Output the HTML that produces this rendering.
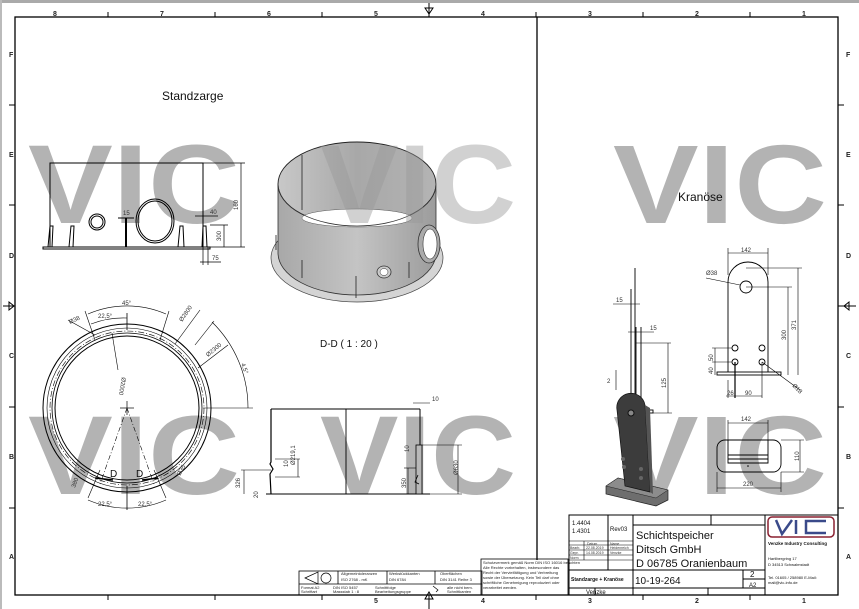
<!DOCTYPE html>
<html><head><meta charset="utf-8"><style>
html,body{margin:0;padding:0;background:#fff;}
svg{display:block;}
text{font-family:"Liberation Sans","DejaVu Sans",sans-serif;}
</style></head><body>
<svg width="859" height="609" viewBox="0 0 859 609" xmlns="http://www.w3.org/2000/svg">
<rect x="0" y="0" width="859" height="609" fill="#fff"/>
<rect x="0" y="0" width="859" height="3" fill="#aaa"/>
<rect x="0" y="0" width="2" height="609" fill="#bbb"/>

<!-- watermark -->
<g fill="#b3b3b3" font-weight="bold" font-size="112">
<text x="28" y="223" textLength="212" lengthAdjust="spacingAndGlyphs">VIC</text>
<text x="613" y="223" textLength="214" lengthAdjust="spacingAndGlyphs">VIC</text>
<text x="28" y="494" textLength="212" lengthAdjust="spacingAndGlyphs">VIC</text>
<text x="320" y="494" textLength="196" lengthAdjust="spacingAndGlyphs">VIC</text>
<text x="613" y="494" textLength="214" lengthAdjust="spacingAndGlyphs">VIC</text>
</g>

<!-- frame -->
<g stroke="#000" fill="none" stroke-width="1.3">
<rect x="15" y="17" width="823" height="578"/>
<line x1="537" y1="17" x2="537" y2="560"/>
</g>
<g stroke="#000" stroke-width="1">
<line x1="108" y1="12" x2="108" y2="17"/><line x1="215" y1="12" x2="215" y2="17"/><line x1="322" y1="12" x2="322" y2="17"/><line x1="429" y1="12" x2="429" y2="17"/><line x1="536" y1="12" x2="536" y2="17"/><line x1="643" y1="12" x2="643" y2="17"/><line x1="750" y1="12" x2="750" y2="17"/>
<line x1="108" y1="595" x2="108" y2="600"/><line x1="215" y1="595" x2="215" y2="600"/><line x1="322" y1="595" x2="322" y2="600"/><line x1="536" y1="595" x2="536" y2="600"/><line x1="643" y1="595" x2="643" y2="600"/><line x1="750" y1="595" x2="750" y2="600"/>
<line x1="9" y1="105" x2="15" y2="105"/><line x1="9" y1="205" x2="15" y2="205"/><line x1="9" y1="407" x2="15" y2="407"/><line x1="9" y1="508" x2="15" y2="508"/>
<line x1="838" y1="105" x2="844" y2="105"/><line x1="838" y1="205" x2="844" y2="205"/><line x1="838" y1="407" x2="844" y2="407"/><line x1="838" y1="508" x2="844" y2="508"/>
<line x1="429" y1="3" x2="429" y2="17"/><line x1="429" y1="595" x2="429" y2="609"/>
<line x1="3" y1="306" x2="15" y2="306"/><line x1="838" y1="306" x2="856" y2="306"/>
</g>
<path d="M425 8 L429 14 L433 8 Z M9 302 L14 306 L9 310 Z M425 599 L429 592 L433 599 Z M849 302 L844 306 L849 310 Z" fill="none" stroke="#000"/>
<g font-size="7" font-weight="bold" fill="#222">
<text x="53" y="16">8</text><text x="160" y="16">7</text><text x="267" y="16">6</text><text x="374" y="16">5</text><text x="481" y="16">4</text><text x="588" y="16">3</text><text x="695" y="16">2</text><text x="802" y="16">1</text>
<text x="588" y="603">3</text><text x="695" y="603">2</text><text x="802" y="603">1</text><text x="374" y="603">5</text><text x="481" y="603">4</text>
<text x="9" y="57">F</text><text x="9" y="157">E</text><text x="9" y="258">D</text><text x="9" y="358">C</text><text x="9" y="459">B</text><text x="9" y="559">A</text>
<text x="846" y="57">F</text><text x="846" y="157">E</text><text x="846" y="258">D</text><text x="846" y="358">C</text><text x="846" y="459">B</text><text x="846" y="559">A</text>
</g>

<!-- labels -->
<text x="162" y="100" font-size="12" fill="#111">Standzarge</text>
<text x="678" y="201" font-size="12" fill="#111">Kranöse</text>
<text x="320" y="347" font-size="10" fill="#111">D-D ( 1 : 20 )</text>

<!-- Standzarge front view -->
<g stroke="#000" fill="none" stroke-width="1">
<rect x="50" y="163" width="153" height="84"/>
<rect x="43" y="247" width="167" height="2"/>
<path d="M48 247 L50 226 L53 226 L52 247 M69 247 L71 226 L74 226 L73 247 M178 247 L180 226 L183 226 L184 247 M202 247 L203 226 L206 226 L207 247"/>
<circle cx="97" cy="222" r="8"/><circle cx="97" cy="222" r="6"/>
<ellipse cx="155" cy="221" rx="19" ry="22"/><ellipse cx="155" cy="221" rx="17" ry="20"/>
<line x1="126" y1="218" x2="126" y2="247" stroke-width="2"/>
<line x1="118" y1="218" x2="134" y2="218"/>
<line x1="203" y1="163" x2="245" y2="163" stroke-width="0.7"/><line x1="203" y1="247" x2="245" y2="247" stroke-width="0.7"/>
<line x1="241" y1="163" x2="241" y2="247" stroke-width="0.7"/>
<line x1="210" y1="225" x2="228" y2="225" stroke-width="0.7"/><line x1="224" y1="225" x2="224" y2="247" stroke-width="0.7"/>
<line x1="195" y1="216" x2="218" y2="216" stroke-width="0.7"/><line x1="200" y1="262" x2="221" y2="262" stroke-width="0.7"/>
<line x1="203" y1="247" x2="203" y2="265" stroke-width="0.7"/><line x1="208" y1="247" x2="208" y2="265" stroke-width="0.7"/>
</g>
<g font-size="6" fill="#333">
<text x="123" y="215">15</text><text x="210" y="214">40</text><text x="212" y="260">75</text>
<text transform="translate(238,210) rotate(-90)">160</text><text transform="translate(221,241) rotate(-90)">300</text>
</g>

<!-- 3D cylinder -->
<defs>
<linearGradient id="cy" x1="0" x2="1"><stop offset="0" stop-color="#a8a8a8"/><stop offset=".5" stop-color="#c4c4c4"/><stop offset="1" stop-color="#9c9c9c"/></linearGradient>
<linearGradient id="ci" x1="0" x2="1"><stop offset="0" stop-color="#c8c8c8"/><stop offset=".5" stop-color="#a8a8a8"/><stop offset="1" stop-color="#b4b4b4"/></linearGradient>
</defs>
<ellipse cx="357" cy="258" rx="86" ry="44" fill="#d4d4d4" stroke="#444" stroke-width="0.7"/>
<path d="M278 184 L278 253 A79 42 0 0 0 436 253 L436 184 Z" fill="url(#cy)" stroke="#333" stroke-width="0.8"/>
<ellipse cx="357" cy="184" rx="79" ry="42" fill="url(#ci)" stroke="#222" stroke-width="0.9"/>
<ellipse cx="357" cy="218" rx="55" ry="9" fill="#fff" stroke="#555" stroke-width="0.5"/>
<path d="M278 184 A79 42 0 0 0 436 184" fill="none" stroke="#333" stroke-width="0.8"/>
<ellipse cx="429" cy="244" rx="11" ry="19" fill="#aaa" stroke="#333" stroke-width="0.8"/>
<ellipse cx="430" cy="244" rx="7" ry="15" fill="#fff" stroke="#333" stroke-width="0.6"/>
<ellipse cx="384" cy="272" rx="7" ry="6" fill="#ccc" stroke="#333" stroke-width="0.8"/>
<ellipse cx="384" cy="272" rx="4" ry="3.5" fill="#fff" stroke="#333" stroke-width="0.5"/>
<g stroke="#222" stroke-width="0.8"><line x1="302" y1="260" x2="302" y2="278"/><line x1="356" y1="276" x2="356" y2="298"/><line x1="409" y1="262" x2="409" y2="278"/><line x1="302" y1="155" x2="302" y2="210"/><line x1="276" y1="235" x2="276" y2="250"/></g>
<g fill="#999" fill-opacity="0.45" font-weight="bold" font-size="112">
<text x="320" y="223" textLength="196" lengthAdjust="spacingAndGlyphs">VIC</text>
</g>

<!-- Ring plan view -->
<g stroke="#000" fill="none">
<circle cx="127" cy="408" r="84" stroke-width="1"/>
<circle cx="127" cy="408" r="80" stroke-width="0.6"/>
<circle cx="127" cy="408" r="77" stroke-width="0.6" stroke-dasharray="6 2 1 2"/>
<circle cx="127" cy="408" r="75" stroke-width="0.8"/>
<circle cx="127" cy="408" r="72" stroke-width="1"/>
<line x1="120" y1="408" x2="134" y2="408" stroke-width="0.7"/><line x1="127" y1="401" x2="127" y2="415" stroke-width="0.7"/>
<line x1="127" y1="408" x2="100" y2="484" stroke-width="0.6" stroke-dasharray="5 2 1 2"/>
<line x1="127" y1="408" x2="154" y2="484" stroke-width="0.6" stroke-dasharray="5 2 1 2"/>
<line x1="127" y1="313" x2="127" y2="330" stroke-width="0.8"/>
<line x1="127" y1="486" x2="127" y2="510" stroke-width="0.8"/>
<path d="M88 314 A98 98 0 0 1 166 314" stroke-width="0.6"/>
<path d="M91 324 A88 88 0 0 1 127 318" stroke-width="0.6"/>
<path d="M88 500 A98 98 0 0 0 166 500" stroke-width="0.6"/>
<line x1="85" y1="311" x2="95" y2="340" stroke-width="0.6"/><line x1="169" y1="311" x2="160" y2="340" stroke-width="0.6"/>
<line x1="88" y1="498" x2="100" y2="470" stroke-width="0.6"/><line x1="166" y1="498" x2="154" y2="470" stroke-width="0.6"/>
<path d="M212 322 A120 120 0 0 1 248 408" stroke-width="0.6"/>
<line x1="195" y1="345" x2="214" y2="321" stroke-width="0.6"/>
<line x1="203" y1="408" x2="253" y2="408" stroke-width="0.6"/>
<line x1="175" y1="344" x2="200" y2="310" stroke-width="0.6"/>
<line x1="198" y1="368" x2="228" y2="345" stroke-width="0.6"/>
<line x1="112" y1="333" x2="118" y2="370" stroke-width="0.6"/>
<line x1="68" y1="320" x2="95" y2="335" stroke-width="0.6"/>
<line x1="95" y1="478" x2="113" y2="480" stroke-width="1.5"/><line x1="142" y1="480" x2="158" y2="478" stroke-width="1.5"/>
</g>
<g font-size="6" fill="#333">
<text x="122" y="305">45°</text><text x="98" y="318">22,5°</text><text x="70" y="324" transform="rotate(-25 70 324)">Ø38</text>
<text x="182" y="322" transform="rotate(-55 182 322)">Ø2800</text><text x="208" y="357" transform="rotate(-40 208 357)">Ø2300</text>
<text x="241" y="364" transform="rotate(70 241 364)">4,5°</text><text x="122" y="377" transform="rotate(100 122 377)">Ø2000</text>
<text x="98" y="506">22,5°</text><text x="138" y="506">22,5°</text>
<text x="75" y="488" transform="rotate(-70 75 488)">380</text><text x="180" y="476" transform="rotate(-60 180 476)">Ø35</text>
</g>
<text x="110" y="477" font-size="10" fill="#111">D</text><text x="136" y="477" font-size="10" fill="#111">D</text>

<!-- Section D-D -->
<g stroke="#000" fill="none">
<path d="M271 409 L271 462 L270 464 L273 469 L270 474 L271 494" stroke-width="1.2"/>
<line x1="271" y1="409" x2="420" y2="409" stroke-width="0.9"/>
<line x1="346" y1="409" x2="346" y2="494" stroke-width="0.9"/>
<line x1="266" y1="494" x2="430" y2="494" stroke-width="1"/>
<rect x="416" y="445" width="6" height="49" fill="#b8b8b8" stroke-width="0.8"/>
<line x1="420" y1="409" x2="420" y2="445" stroke-width="1"/>
<path d="M418 475 L415 482 L419 484" stroke-width="0.8"/>
<line x1="422" y1="445" x2="462" y2="445" stroke-width="0.6"/><line x1="422" y1="494" x2="462" y2="494" stroke-width="0.6"/>
<line x1="458" y1="445" x2="458" y2="494" stroke-width="0.6"/>
<line x1="404" y1="468" x2="416" y2="468" stroke-width="0.6"/><line x1="408" y1="468" x2="408" y2="494" stroke-width="0.6"/>
<line x1="413" y1="403" x2="430" y2="403" stroke-width="0.6"/>
<line x1="241" y1="470" x2="271" y2="470" stroke-width="0.6"/><line x1="244" y1="470" x2="244" y2="494" stroke-width="0.6"/>
<line x1="275" y1="477" x2="300" y2="477" stroke-width="0.6"/><line x1="298" y1="459" x2="298" y2="477" stroke-width="0.6"/>
<line x1="275" y1="459" x2="300" y2="459" stroke-width="0.6"/>
</g>
<g font-size="6" fill="#333">
<text x="432" y="401">10</text><text transform="translate(458,475) rotate(-90)">Ø630</text>
<text transform="translate(406,488) rotate(-90)">350</text><text transform="translate(295,465) rotate(-90)">Ø219,1</text>
<text transform="translate(240,488) rotate(-90)">326</text><text transform="translate(258,498) rotate(-90)">20</text>
<text transform="translate(288,467) rotate(-90)">10</text><text transform="translate(409,452) rotate(-90)">10</text>
</g>

<!-- Kranöse side view -->
<g stroke="#000" fill="none" stroke-width="0.9">
<line x1="635" y1="268" x2="635" y2="410"/><line x1="631" y1="289" x2="631" y2="410"/><line x1="641" y1="327" x2="641" y2="410"/><line x1="636" y1="327" x2="636" y2="410"/>
<rect x="623" y="410" width="30" height="3"/>
<line x1="613" y1="304" x2="640" y2="304" stroke-width="0.6"/><line x1="628" y1="332" x2="654" y2="332" stroke-width="0.6"/>
<line x1="636" y1="343" x2="671" y2="343" stroke-width="0.6"/><line x1="668" y1="343" x2="668" y2="413" stroke-width="0.6"/>
<line x1="653" y1="413" x2="672" y2="413" stroke-width="0.6"/><line x1="616" y1="370" x2="616" y2="390" stroke-width="0.6"/>
</g>
<g font-size="6" fill="#333"><text x="616" y="302">15</text><text x="650" y="330">15</text><text transform="translate(666,388) rotate(-90)">125</text><text x="607" y="383">2</text></g>

<!-- Kranöse front view -->
<g stroke="#000" fill="none" stroke-width="0.9">
<path d="M728 372 L728 282 A20 20 0 0 1 768 282 L768 372"/>
<rect x="717" y="372" width="64" height="3"/>
<circle cx="746" cy="287" r="6"/>
<circle cx="735" cy="348" r="3"/><circle cx="762" cy="348" r="3"/><circle cx="735" cy="362" r="3"/><circle cx="762" cy="362" r="3"/>
<line x1="728" y1="253" x2="768" y2="253" stroke-width="0.6"/><line x1="728" y1="248" x2="728" y2="275" stroke-width="0.6"/><line x1="768" y1="248" x2="768" y2="275" stroke-width="0.6"/>
<line x1="746" y1="268" x2="802" y2="268" stroke-width="0.6"/><line x1="798" y1="268" x2="798" y2="375" stroke-width="0.6"/>
<line x1="746" y1="287" x2="792" y2="287" stroke-width="0.6"/><line x1="788" y1="287" x2="788" y2="375" stroke-width="0.6"/>
<line x1="706" y1="278" x2="740" y2="285" stroke-width="0.6"/>
<line x1="762" y1="362" x2="800" y2="390" stroke-width="0.6"/>
<line x1="712" y1="348" x2="732" y2="348" stroke-width="0.6"/><line x1="712" y1="362" x2="732" y2="362" stroke-width="0.6"/><line x1="715" y1="348" x2="715" y2="375" stroke-width="0.6"/>
<line x1="735" y1="362" x2="735" y2="398" stroke-width="1.2"/><line x1="762" y1="362" x2="762" y2="398" stroke-width="0.6"/><line x1="728" y1="380" x2="728" y2="398" stroke-width="0.6"/>
<line x1="726" y1="396" x2="762" y2="396" stroke-width="0.6"/>
</g>
<g font-size="6" fill="#333"><text x="741" y="252">142</text><text x="706" y="275">Ø38</text><text transform="translate(786,340) rotate(-90)">300</text><text transform="translate(796,330) rotate(-90)">371</text>
<text transform="translate(713,361) rotate(-90)">50</text><text transform="translate(713,374) rotate(-90)">40</text><text x="727" y="395">26</text><text x="745" y="395">90</text><text x="792" y="386" transform="rotate(45 792 386)">Ø18</text></g>

<!-- 3D bracket -->
<path d="M606 486 L618 478 L668 490 L668 500 L656 506 L606 494 Z" fill="#6e6e6e" stroke="#222" stroke-width="0.7"/>
<path d="M618 478 L668 490 L656 498 L606 486 Z" fill="#8c8c8c" stroke="#222" stroke-width="0.5"/>
<path d="M617 410 A14 14 0 0 1 645 405 L650 492 L625 486 Z" fill="#3c3c3c" stroke="#111" stroke-width="0.7"/>
<path d="M645 405 L650 408 L653 494 L650 492 Z" fill="#555"/>
<circle cx="631" cy="413" r="3" fill="#888" stroke="#111"/>
<circle cx="623" cy="459" r="2" fill="#666"/><circle cx="624" cy="467" r="2" fill="#666"/><circle cx="641" cy="469" r="2" fill="#666"/><circle cx="641" cy="478" r="2" fill="#666"/>

<!-- bottom view -->
<g stroke="#000" fill="none" stroke-width="0.9">
<rect x="717" y="440" width="64" height="32" rx="8"/>
<path d="M728 440 L728 463 L768 463 L768 440"/><line x1="728" y1="455" x2="768" y2="455"/><line x1="728" y1="459" x2="768" y2="459"/>
<line x1="728" y1="423" x2="768" y2="423" stroke-width="0.6"/><line x1="728" y1="420" x2="728" y2="440" stroke-width="0.6"/><line x1="768" y1="420" x2="768" y2="440" stroke-width="0.6"/>
<line x1="717" y1="488" x2="781" y2="488" stroke-width="0.6"/><line x1="717" y1="472" x2="717" y2="492" stroke-width="0.6"/><line x1="781" y1="472" x2="781" y2="492" stroke-width="0.6"/>
<line x1="781" y1="440" x2="804" y2="440" stroke-width="0.6"/><line x1="781" y1="472" x2="804" y2="472" stroke-width="0.6"/><line x1="800" y1="440" x2="800" y2="472" stroke-width="0.6"/>
</g>
<g font-size="6" fill="#333"><text x="741" y="421">142</text><text x="743" y="486">220</text><text transform="translate(799,461) rotate(-90)">110</text></g>
<circle cx="748" cy="466" r="0.8" fill="#000"/>

<!-- small title table -->
<g stroke="#000" fill="none" stroke-width="0.8">
<rect x="299" y="571" width="183" height="24"/>
<line x1="299" y1="584" x2="482" y2="584"/>
<line x1="338" y1="571" x2="338" y2="584"/><line x1="387" y1="571" x2="387" y2="584"/><line x1="435" y1="571" x2="435" y2="584"/>
<rect x="481" y="559" width="87" height="36"/>
</g>
<g font-size="4" fill="#222">
<text x="341" y="575">Allgemeintoleranzen</text><text x="341" y="581">ISO 2768 - mK</text>
<text x="389" y="575">Werkstückkanten</text><text x="389" y="581">DIN 6784</text>
<text x="440" y="575">Oberflächen</text><text x="440" y="581">DIN 3141 Reihe 3</text>
<text x="301" y="589">Format A2</text><text x="301" y="593">Schriftart</text>
<text x="333" y="589">DIN ISO 5457</text><text x="333" y="593">Massstab 1 : 8</text>
<text x="375" y="589">Schnittfolge</text><text x="375" y="593">Bearbeitungsgruppe</text>
<text x="447" y="589">alle nicht bem.</text><text x="447" y="593">Schnittkanten</text>
<text x="483" y="564">Schutzvermerk gemäß Norm DIN ISO 16016 beachten</text>
<text x="483" y="569">Alle Rechte vorbehalten, insbesondere das</text>
<text x="483" y="574">Recht der Vervielfältigung und Verbreitung</text>
<text x="483" y="579">sowie der Übersetzung. Kein Teil darf ohne</text>
<text x="483" y="584">schriftliche Genehmigung reproduziert oder</text>
<text x="483" y="589">verarbeitet werden.</text>
</g>
<path d="M305 578 L318 572 L318 584 Z" fill="none" stroke="#000" stroke-width="0.7"/>
<circle cx="326" cy="578" r="5" fill="none" stroke="#000" stroke-width="0.7"/>
<path d="M433 586 L438 590 L436 592" fill="none" stroke="#000" stroke-width="0.7"/>

<!-- main title block -->
<g stroke="#000" fill="none" stroke-width="1">
<rect x="569" y="515" width="269" height="80"/>
<line x1="633" y1="515" x2="633" y2="595"/><line x1="765" y1="515" x2="765" y2="595"/>
<line x1="711" y1="515" x2="711" y2="525"/><line x1="633" y1="525" x2="765" y2="525"/>
<line x1="608" y1="515" x2="608" y2="570"/>
<line x1="569" y1="541" x2="633" y2="541" stroke-width="0.6"/><line x1="569" y1="545" x2="633" y2="545" stroke-width="0.6"/><line x1="569" y1="550" x2="633" y2="550" stroke-width="0.6"/><line x1="569" y1="555" x2="633" y2="555" stroke-width="0.6"/><line x1="569" y1="560" x2="633" y2="560" stroke-width="0.6"/>
<line x1="584" y1="541" x2="584" y2="560" stroke-width="0.6"/>
<line x1="569" y1="570" x2="765" y2="570"/><line x1="569" y1="588" x2="765" y2="588"/>
<line x1="743" y1="570" x2="743" y2="588"/><line x1="743" y1="579" x2="765" y2="579"/>
<line x1="595" y1="588" x2="595" y2="595"/><line x1="708" y1="588" x2="708" y2="595"/>
</g>
<g fill="#111">
<text x="572" y="525" font-size="6">1.4404</text><text x="572" y="533" font-size="6">1.4301</text><text x="610" y="531" font-size="6">Rev03</text>
<text x="571" y="581" font-size="5" font-weight="bold">Standzarge + Kranöse</text>
<text x="636" y="539" font-size="11">Schichtspeicher</text>
<text x="636" y="553" font-size="11">Ditsch GmbH</text>
<text x="636" y="567" font-size="11">D 06785 Oranienbaum</text>
<text x="635" y="584" font-size="10">10-19-264</text>
<text x="750" y="577" font-size="8">2</text><text x="749" y="587" font-size="6">A2</text>
<text x="586" y="594" font-size="6">Venzke</text>
<text x="768" y="545" font-size="4.5" font-weight="bold">Venzke Industry Consulting</text>
<g font-size="4"><text x="768" y="560">Hartlbergring 17</text><text x="768" y="566">D 34513 Schwalmstadt</text><text x="768" y="579">Tel. 01605 / 258980 E-Mail:</text><text x="768" y="584">mail@vic-info.de</text></g>
<g font-size="3.5" fill="#333"><text x="587" y="545">Datum</text><text x="610" y="545">Name</text><text x="570" y="549">Bearb.</text><text x="586" y="549">22.08.2019</text><text x="610" y="549">Heidenreich</text><text x="570" y="554">Gepr.</text><text x="586" y="554">14.08.2019</text><text x="610" y="554">Venzke</text><text x="570" y="559">Norm</text></g>
</g>
<!-- logo -->
<rect x="768" y="517" width="66" height="20" rx="4" fill="none" stroke="#8a2030" stroke-width="1.5"/>
<path d="M776 520 L782 534 L792 520 M796 520 L796 534 M826 521 L806 521 L806 533 L826 533" fill="none" stroke="#3a4a8a" stroke-width="2.5"/>
</svg>
</body></html>
